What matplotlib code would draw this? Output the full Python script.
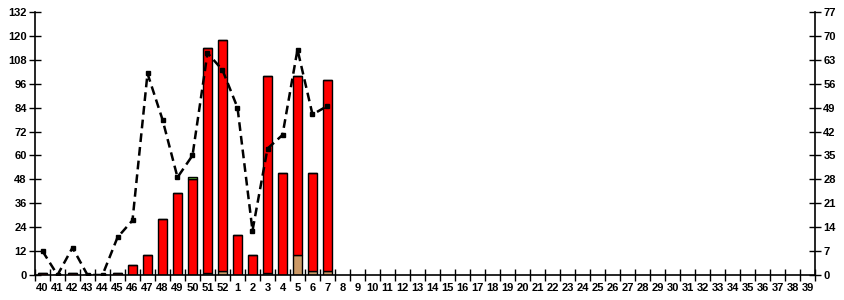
import numpy as np
import matplotlib.pyplot as plt
from matplotlib.ticker import MultipleLocator, FixedLocator

plt.rcParams['font.family'] = ['Liberation Sans', 'DejaVu Sans']

# Data
weeks = [str(w) for w in range(40, 53)] + [str(w) for w in range(1, 40)]
red = [1, 0, 1, 0, 0, 1, 5, 10, 28, 41, 48, 113, 116, 20, 10, 99, 51, 90, 49, 96]
tan = [0, 0, 0, 0, 0, 0, 0, 0, 0, 0, 0, 1, 2, 0, 0, 1, 0, 10, 2, 2]
green = [0, 0, 0, 0, 0, 0, 0, 0, 0, 0, 1, 0, 0, 0, 0, 0, 0, 0, 0, 0]
line = [7, 0, 8, 0, 0, 11, 16, 59, 45.5, 28.6, 35, 65, 60, 49, 13, 37, 41, 66, 47, 49.5]

n = len(weeks)
x = np.arange(len(red))
red = np.array(red)
tan = np.array(tan)
green = np.array(green)

fig = plt.figure(figsize=(8.45, 3.0), dpi=100)
ax = fig.add_axes([35 / 845, 25 / 300, 780 / 845, 263 / 300])

w = 0.63
ax.bar(x, tan, w, color='#cc9966', edgecolor='black', linewidth=1, zorder=2)
ax.bar(x, red, w, bottom=tan, color='#ff0000', edgecolor='black', linewidth=1, zorder=2)
ax.bar(x, green, w, bottom=tan + red, color='#66cc33', edgecolor='black', linewidth=1, zorder=2)

ax.set_xlim(-0.5, n - 0.5)
ax.set_ylim(0, 132)
ax.yaxis.set_major_locator(MultipleLocator(12))
ax.set_xticks(np.arange(n))
ax.set_xticklabels(weeks)
ax.xaxis.set_minor_locator(FixedLocator(np.arange(n + 1) - 0.5))
ax.tick_params(axis='x', which='major', length=0, pad=6)
ax.tick_params(axis='x', which='minor', direction='inout', length=8, width=1)
ax.tick_params(axis='y', direction='inout', length=8, width=1, pad=2)
for s in ['top', 'right']:
    ax.spines[s].set_visible(False)
ax.spines['left'].set_linewidth(1.2)
ax.spines['bottom'].set_linewidth(1.2)

ax2 = ax.twinx()
ax2.set_ylim(0, 77)
ax2.yaxis.set_major_locator(MultipleLocator(7))
ax2.plot(x, line, color='black', linestyle=(0, (3.5, 2)), linewidth=1.8,
         marker='s', markersize=3, zorder=3)
for s in ['top', 'left', 'bottom']:
    ax2.spines[s].set_visible(False)
ax2.spines['right'].set_linewidth(1.2)
ax2.tick_params(axis='y', direction='inout', length=8, width=1, pad=2)

for a in (ax, ax2):
    for lbl in a.get_xticklabels() + a.get_yticklabels():
        lbl.set_fontsize(8)
        lbl.set_fontweight('bold')

fig.savefig('out.png', dpi=100)
